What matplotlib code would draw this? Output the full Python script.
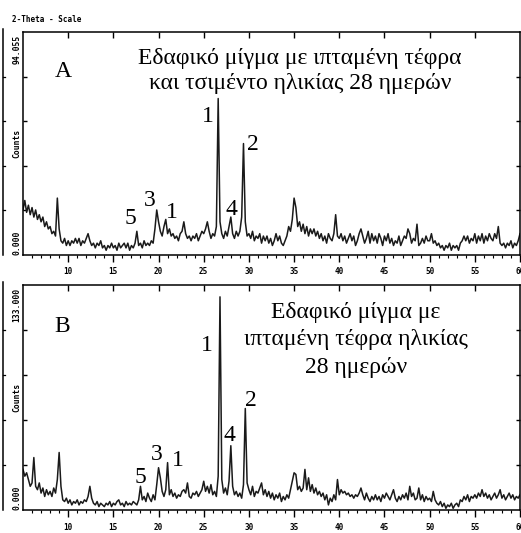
import matplotlib
matplotlib.use("Agg")
import matplotlib.pyplot as plt
from matplotlib.lines import Line2D
import numpy as np

# 2-theta grid of the scan (degrees), read every 0.2 deg
two_theta = np.round(np.arange(5.0, 60.001, 0.2), 1)

# panel A: soil mix with fly ash and cement, 28 days (counts)
counts_a = [
    19, 23, 18, 21, 17,   # 5
    20, 16, 19, 15, 17,   # 6
    14, 16, 12, 14, 11,   # 7
    12, 9, 10, 8, 24,     # 8
    11, 6, 5, 7, 4,       # 9
    6, 4, 6, 5, 7,        # 10
    5, 7, 4, 6, 5,        # 11
    7, 9, 6, 4, 5,        # 12
    3, 5, 4, 6, 3,        # 13
    4, 2, 4, 3, 5,        # 14
    3, 4, 2, 5, 3,        # 15
    4, 5, 3, 5, 2,        # 16
    4, 3, 5, 10, 4,       # 17
    5, 3, 6, 4, 5,        # 18
    4, 6, 5, 11, 19,      # 19
    14, 10, 8, 12, 15,    # 20
    9, 11, 8, 9, 7,       # 21
    8, 6, 9, 10, 14,      # 22
    9, 7, 8, 6, 8,        # 23
    7, 9, 6, 8, 10,       # 24
    9, 11, 14, 10, 7,     # 25
    9, 8, 12, 66, 14,     # 26
    9, 7, 10, 8, 12,      # 27
    16, 9, 7, 10, 8,      # 28
    10, 16, 47, 14, 8,    # 29
    9, 7, 10, 6, 8,       # 30
    7, 9, 5, 8, 6,        # 31
    8, 5, 7, 4, 6,        # 32
    9, 6, 8, 5, 4,        # 33
    6, 8, 12, 10, 15,     # 34
    24, 20, 12, 14, 10,   # 35
    13, 9, 12, 8, 11,     # 36
    9, 11, 8, 10, 7,      # 37
    9, 6, 8, 5, 9,        # 38
    7, 6, 9, 17, 8,       # 39
    7, 9, 6, 8, 5,        # 40
    7, 9, 6, 8, 4,        # 41
    6, 9, 11, 8, 5,       # 42
    7, 10, 5, 9, 6,       # 43
    8, 5, 9, 7, 4,        # 44
    8, 6, 9, 5, 7,        # 45
    4, 6, 5, 8, 4,        # 46
    6, 8, 7, 11, 9,       # 47
    5, 7, 6, 13, 4,       # 48
    5, 7, 5, 8, 6,        # 49
    6, 9, 5, 6, 4,        # 50
    5, 3, 4, 2, 4,        # 51
    3, 5, 2, 4, 3,        # 52
    4, 2, 5, 6, 8,        # 53
    6, 8, 5, 7, 6,        # 54
    9, 5, 8, 6, 9,        # 55
    5, 8, 6, 9, 7,        # 56
    6, 9, 7, 12, 5,       # 57
    4, 5, 3, 5, 4,        # 58
    6, 3, 5, 4, 6,        # 59
    9,                    # 60
]

# panel B: soil mix with fly ash, 28 days (counts)
counts_b = [
    24, 20, 22, 18, 14,   # 5
    16, 31, 14, 12, 16,   # 6
    10, 13, 8, 12, 9,     # 7
    11, 8, 13, 10, 18,    # 8
    34, 14, 6, 5, 7,      # 9
    4, 6, 3, 5, 4,        # 10
    6, 3, 5, 4, 6,        # 11
    5, 8, 14, 7, 4,       # 12
    3, 5, 2, 4, 3,        # 13
    2, 4, 3, 5, 2,        # 14
    4, 3, 5, 6, 3,        # 15
    4, 2, 5, 3, 4,        # 16
    3, 5, 4, 3, 6,        # 17
    14, 6, 8, 5, 10,      # 18
    7, 5, 9, 6, 15,       # 19
    25, 19, 11, 8, 12,    # 20
    28, 9, 12, 8, 10,     # 21
    7, 9, 8, 11, 12,      # 22
    10, 16, 8, 7, 10,     # 23
    9, 11, 8, 10, 12,     # 24
    17, 11, 14, 10, 15,   # 25
    9, 11, 8, 20, 126,    # 26
    18, 10, 13, 9, 17,    # 27
    38, 14, 9, 11, 8,     # 28
    10, 7, 15, 60, 16,    # 29
    12, 9, 14, 8, 11,     # 30
    10, 13, 16, 9, 12,    # 31
    8, 11, 7, 10, 6,      # 32
    9, 7, 10, 5, 8,       # 33
    6, 9, 7, 12, 17,      # 34
    22, 21, 12, 14, 11,   # 35
    13, 24, 12, 19, 11,   # 36
    15, 10, 13, 9, 11,    # 37
    8, 10, 6, 9, 3,       # 38
    7, 5, 9, 6, 18,       # 39
    9, 12, 10, 11, 9,     # 40
    10, 8, 9, 7, 9,       # 41
    8, 10, 13, 9, 6,      # 42
    10, 7, 5, 8, 6,       # 43
    9, 6, 8, 5, 9,        # 44
    7, 10, 8, 6, 9,       # 45
    12, 7, 5, 8, 6,       # 46
    9, 7, 10, 6, 14,      # 47
    8, 10, 6, 7, 13,      # 48
    6, 9, 5, 8, 6,        # 49
    7, 5, 11, 6, 4,       # 50
    3, 5, 2, 4, 1,        # 51
    3, 2, 4, 1, 3,        # 52
    4, 2, 6, 5, 8,        # 53
    6, 9, 5, 8, 7,        # 54
    9, 7, 10, 8, 12,      # 55
    8, 10, 7, 9, 6,       # 56
    8, 10, 7, 9, 12,      # 57
    7, 9, 6, 8, 10,       # 58
    7, 9, 6, 8, 7,        # 59
    9,                    # 60
]

ymax_a = 94.055
ymax_b = 133.0
xticks = [10, 15, 20, 25, 30, 35, 40, 45, 50, 55, 60]

title_a = "Εδαφικό μίγμα με ιπταμένη τέφρα\nκαι τσιμέντο ηλικίας 28 ημερών"
title_b = "Εδαφικό μίγμα με\nιπταμένη τέφρα ηλικίας\n28 ημερών"

# peak labels: (text, 2theta, counts)
labels_a = [("1", 25.47, 58.6), ("2", 30.45, 46.4), ("3", 19.05, 22.8),
            ("5", 16.84, 15.2), ("1", 21.49, 18.1), ("4", 28.02, 19.0)]
labels_b = [("1", 25.36, 97.5), ("2", 30.23, 65.0), ("3", 19.83, 33.1),
            ("5", 17.95, 19.5), ("1", 22.15, 29.0), ("4", 27.9, 44.3)]

W, H = 521, 533
fig = plt.figure(figsize=(W / 100, H / 100), dpi=100)

mono = "DejaVu Sans Mono"
serif = "Liberation Serif"


def px_box(left, top, right, bottom):
    return [left / W, 1 - bottom / H, (right - left) / W, (bottom - top) / H]


def setup(ax, ymax):
    ax.set_xlim(5, 60)
    ax.set_ylim(0, ymax)
    for s in ax.spines.values():
        s.set_linewidth(1.1)
    ax.set_xticks(xticks)
    ax.set_xticks(np.arange(6, 60, 1), minor=True)
    ax.set_xticklabels([str(t) for t in xticks], fontfamily=mono,
                       fontweight="bold", fontsize=5.5)
    ax.tick_params(axis="x", which="major", direction="out", length=5,
                   width=1, pad=4, top=False)
    ax.tick_params(axis="x", which="minor", direction="out", length=2.5,
                   width=0.8, top=False)
    ax.set_yticks([ymax * f for f in (0.2, 0.4, 0.6, 0.8)])
    ax.set_yticklabels([])
    ax.tick_params(axis="y", direction="in", length=3, width=1,
                   left=True, right=True)
    # inner ticks on top spine
    sec = ax.secondary_xaxis("top")
    sec.set_xticks(xticks[:-1])
    sec.set_xticklabels([])
    sec.tick_params(direction="in", length=4, width=1)
    sec.spines["top"].set_visible(False)


ax_a = fig.add_axes(px_box(23, 32, 520, 255))
ax_b = fig.add_axes(px_box(23, 285, 520, 510))
setup(ax_a, ymax_a)
setup(ax_b, ymax_b)

ax_a.plot(two_theta, counts_a, color="#1a1a1a", lw=1.1)
ax_b.plot(two_theta, counts_b, color="#1a1a1a", lw=1.1)

ax_a.text(9.43, 77.6, "A", fontfamily=serif, fontsize=17, ha="center", va="center")
ax_b.text(9.32, 108.2, "B", fontfamily=serif, fontsize=17, ha="center", va="center")
ax_a.text(35.65, 77.6, title_a, fontfamily=serif, fontsize=17, ha="center",
          va="center", linespacing=1.25)
ax_b.text(41.85, 100.6, title_b, fontfamily=serif, fontsize=17, ha="center",
          va="center", linespacing=1.4)
for ax, labels in ((ax_a, labels_a), (ax_b, labels_b)):
    for t, x, y in labels:
        ax.text(x, y, t, fontfamily=serif, fontsize=17, ha="center", va="center")

# y axis annotations as printed by the diffractometer
for top, bottom, ymax in ((32, 255, ymax_a), (285, 510, ymax_b)):
    fig.text(17 / W, 1 - (top + 3) / H, f"{ymax:.3f}", rotation=90, ha="center",
             va="top", fontfamily=mono, fontweight="bold", fontsize=5.8)
    fig.text(17 / W, 1 - ((top + bottom) / 2) / H, "Counts", rotation=90,
             ha="center", va="center", fontfamily=mono, fontweight="bold",
             fontsize=5.8)
    fig.text(17 / W, 1 - bottom / H, "0.000", rotation=90, ha="center",
             va="bottom", fontfamily=mono, fontweight="bold", fontsize=5.8)
    # edge of the neighbouring pattern, cut off at the left
    fig.add_artist(Line2D([2.5 / W, 2.5 / W], [1 - (top - 3) / H, 1 - bottom / H],
                          color="black", lw=1.1))
    for f in (0.2, 0.4, 0.6, 0.8):
        yy = 1 - (bottom - f * (bottom - top)) / H
        fig.add_artist(Line2D([2.5 / W, 5 / W], [yy, yy], color="black", lw=0.9))

fig.text(12 / W, 1 - 19 / H, "2-Theta - Scale", ha="left", va="center",
         fontfamily=mono, fontweight="bold", fontsize=5.5)

fig.savefig("out.png", dpi=100)
